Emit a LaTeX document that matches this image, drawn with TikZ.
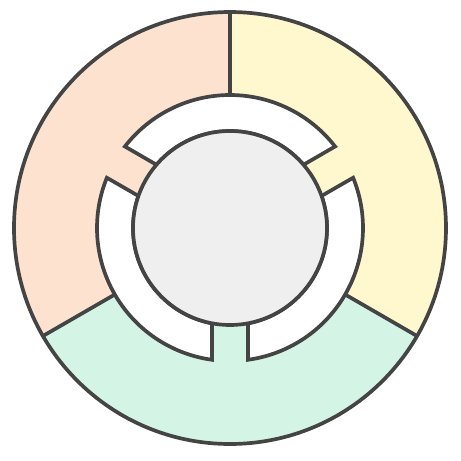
\documentclass[tikz,border=0pt]{standalone}

\definecolor{peach}{HTML}{FDE3CF}
\definecolor{butter}{HTML}{FFF8CF}
\definecolor{mint}{HTML}{D4F5E5}
\definecolor{hubgray}{HTML}{EFEFEF}
\definecolor{ink}{HTML}{444444}

\begin{document}
\begin{tikzpicture}[x=0.02cm,y=0.02cm,
  outline/.style={draw=ink,line width=2.1pt},
  ringseg/.style={draw=ink,fill=white,line width=2.1pt,line join=miter},
  hub/.style={draw=ink,fill=hubgray,line width=2.1pt},
]
\useasboundingbox (-230,-233) rectangle (231,228);

% Sectors
\fill[peach]  (0,0) -- (90:216)  arc[start angle=90,end angle=210,radius=216] -- cycle;
\fill[mint]   (0,0) -- (210:216) arc[start angle=210,end angle=330,radius=216] -- cycle;
\fill[butter] (0,0) -- (330:216) arc[start angle=330,end angle=450,radius=216] -- cycle;

% Outer rim and dividers
\draw[outline] (0,0) circle[radius=216];
\foreach \a in {90,210,330}
  \draw[outline] (\a:133) -- (\a:216);

% Inner ring segments
\foreach \c in {90,210,330}
  \draw[ringseg] ({\c-52.2}:133) arc[start angle={\c-52.2},end angle={\c+52.2},radius=133]
    -- ({\c+49.3}:97) arc[start angle={\c+49.3},end angle={\c-49.3},radius=97] -- cycle;

% Hub
\draw[hub] (0,0) circle[radius=97];

\end{tikzpicture}
\end{document}
